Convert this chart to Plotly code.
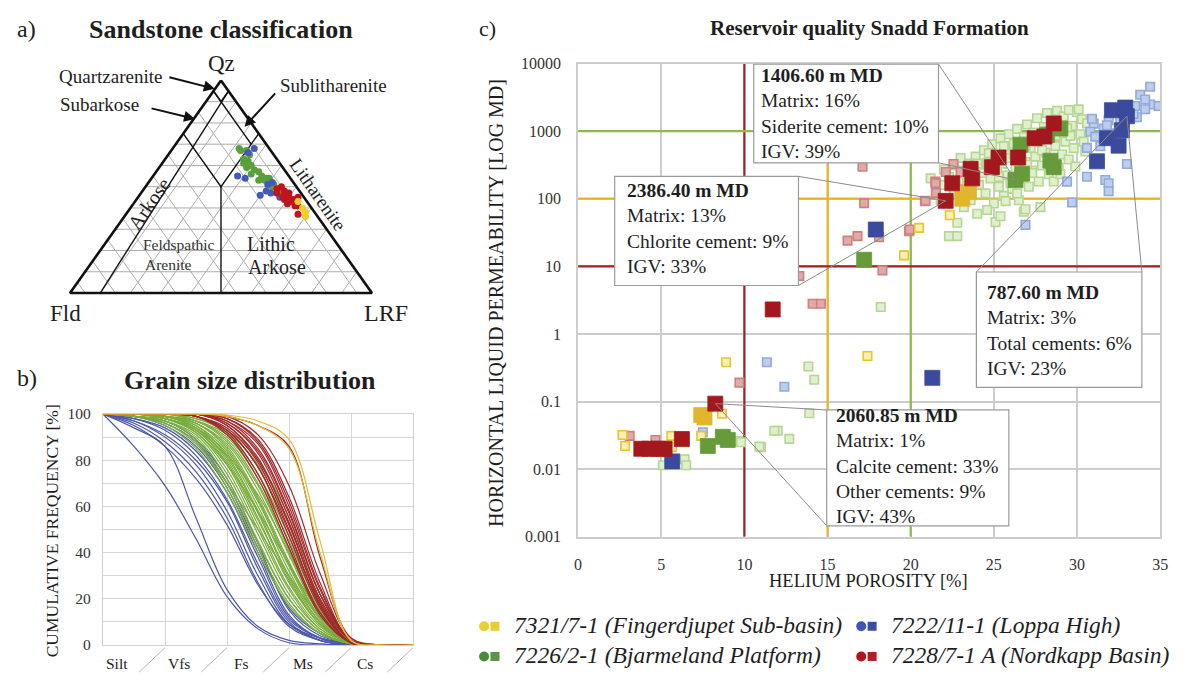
import plotly.graph_objects as go

W, H = 1184, 682
SERIF = "Liberation Serif"
INK = "#1e1e1e"

# ---------------------------------------------------------------------------
# a) Framework composition (%): quartz (Qz) and feldspar (Fld); LRF = rest
# ---------------------------------------------------------------------------
qfr_7321_qz = [43, 40, 38, 36]
qfr_7321_fld = [3, 3, 3, 4]
qfr_7222_qz = [68, 66, 55, 54, 51, 48, 47, 46, 45, 52]
qfr_7222_fld = [5, 8, 17, 15, 9, 11, 10, 14, 8, 7]
qfr_7226_qz = [68, 67, 67, 65, 63, 62, 61, 60, 59, 58, 57, 56, 55, 54, 54, 53, 53, 51, 50, 48, 47]
qfr_7226_fld = [10, 10, 8, 8, 11, 10, 12, 10, 12, 10, 9, 12, 9, 8, 7, 11, 9, 7, 8, 7, 6]
qfr_7228_qz = [49, 50, 48, 47, 46, 45, 44, 45, 43, 42, 41, 41, 37, 45, 47, 44]
qfr_7228_fld = [7, 5, 5, 8, 6, 5, 4, 2, 5, 7, 5, 4, 6, 7, 4, 7]

# classification boundaries as (Qz, Fld, LRF) vertices
class_lines = [
    [(100, 0, 0), (95, 5, 0), (90, 5, 5), (95, 0, 5), (100, 0, 0)],
    [(95, 0, 5), (0, 90, 10)],
    [(95, 5, 0), (70, 5, 25)],
    [(75, 25, 0), (50, 25, 25), (75, 0, 25)],
    [(50, 25, 25), (0, 50, 50)],
]

# ---------------------------------------------------------------------------
# b) Cumulative grain-size curves (%), sampled at half-class steps
# ---------------------------------------------------------------------------
grain_pos = [0, 0.5, 1, 1.5, 2, 2.5, 3, 3.5, 4, 4.5, 5]
grain_classes = ["Silt", "Vfs", "Fs", "Ms", "Cs"]

curves_7222 = [
    [100, 86, 69, 46, 21, 7, 1, 0, 0, 0, 0],
    [100, 94, 86, 55, 24, 8, 2, 0.5, 0, 0, 0],
    [100, 97, 90, 78, 58, 30, 9, 2, 0, 0, 0],
    [100, 98, 93, 82, 63, 35, 11, 3, 0.5, 0, 0],
    [100, 99, 95, 86, 68, 40, 13, 3, 0.5, 0, 0],
    [100, 96, 88, 75, 55, 27, 8, 2, 0, 0, 0],
    [100, 99, 97, 89, 72, 44, 15, 4, 1, 0, 0],
    [100, 98, 94, 84, 66, 38, 12, 3, 0.5, 0, 0],
    [100, 95, 86, 72, 52, 26, 9, 3, 1, 0, 0],
    [100, 99, 96, 88, 70, 42, 16, 5, 1, 0, 0],
    [100, 97, 91, 80, 62, 33, 10, 2, 0, 0, 0],
]
curves_7226 = [
    [100, 100, 99, 95, 82, 58, 30, 10, 1, 0, 0],
    [100, 100, 98, 93, 78, 52, 25, 8, 1, 0, 0],
    [100, 100, 99, 96, 86, 64, 36, 12, 1, 0, 0],
    [100, 99, 97, 90, 72, 45, 20, 6, 0.5, 0, 0],
    [100, 100, 100, 97, 89, 70, 42, 15, 1, 0, 0],
    [100, 100, 99, 94, 80, 55, 27, 9, 1, 0, 0],
    [100, 99, 96, 88, 68, 42, 18, 5, 0.5, 0, 0],
    [100, 100, 99, 97, 91, 74, 47, 18, 2, 0, 0],
    [100, 100, 98, 92, 76, 50, 24, 7, 1, 0, 0],
    [100, 100, 99, 95, 84, 62, 34, 11, 1, 0, 0],
    [100, 99, 97, 89, 70, 44, 20, 6, 0.5, 0, 0],
    [100, 100, 100, 98, 92, 78, 52, 20, 2, 0, 0],
    [100, 100, 99, 96, 87, 67, 39, 13, 1, 0, 0],
    [100, 99, 95, 85, 66, 40, 17, 5, 0.5, 0, 0],
    [100, 100, 99, 94, 81, 57, 29, 9, 1, 0, 0],
    [100, 100, 98, 93, 79, 54, 28, 9, 1, 0, 0],
    [100, 100, 100, 97, 90, 72, 45, 16, 1, 0, 0],
    [100, 99, 97, 91, 74, 48, 22, 7, 1, 0, 0],
    [100, 100, 99, 96, 85, 63, 35, 12, 1, 0, 0],
    [100, 100, 98, 94, 83, 60, 32, 10, 1, 0, 0],
    [100, 99, 98, 93, 82, 65, 40, 14, 1, 0, 0],
    [100, 100, 99, 97, 88, 69, 41, 14, 1, 0, 0],
    [100, 99, 96, 87, 70, 50, 30, 12, 2, 0, 0],
    [100, 100, 98, 92, 78, 58, 35, 14, 2, 0, 0],
    [100, 100, 100, 98, 93, 80, 55, 22, 3, 0, 0],
]
curves_7228 = [
    [100, 100, 100, 100, 97, 85, 58, 22, 2, 0, 0],
    [100, 100, 100, 100, 95, 81, 52, 19, 1, 0, 0],
    [100, 100, 100, 99, 93, 77, 47, 16, 1, 0, 0],
    [100, 100, 100, 100, 98, 89, 64, 27, 2, 0, 0],
    [100, 100, 100, 100, 96, 83, 55, 20, 2, 0, 0],
    [100, 100, 100, 99, 94, 79, 50, 17, 1, 0, 0],
    [100, 100, 100, 100, 97, 87, 60, 24, 2, 0, 0],
    [100, 100, 100, 99, 92, 74, 44, 14, 1, 0, 0],
    [100, 100, 100, 100, 99, 91, 69, 31, 3, 0, 0],
    [100, 100, 100, 100, 95, 80, 53, 18, 1, 0, 0],
    [100, 100, 100, 99, 93, 77, 49, 17, 1, 0, 0],
    [100, 100, 100, 100, 98, 88, 62, 25, 2, 0, 0],
    [100, 100, 100, 100, 96, 84, 57, 22, 2, 0, 0],
    [100, 100, 100, 100, 99, 95, 86, 38, 3, 0, 0],
    [100, 100, 100, 99, 91, 72, 42, 13, 1, 0, 0],
]
curves_7321 = [
    [100, 100, 100, 100, 99.5, 97, 89, 45, 2, 0, 0],
    [100, 100, 100, 100, 99, 95, 85, 40, 2, 0, 0],
]

# ---------------------------------------------------------------------------
# c) Helium porosity (%) vs horizontal liquid permeability (mD)
#    small = routine core plugs, big = thin-section samples
# ---------------------------------------------------------------------------
por_7321_small = [8.9, 8.65, 7.4, 2.67, 2.83, 5.6, 5.65, 17.4, 22.35, 20.5, 19.6]
perm_7321_small = [0.38, 0.066, 0.031, 0.032, 0.022, 0.031, 0.021, 0.47, 57, 37, 14.5]
por_7321_big = [7.4, 7.6, 23.1, 23.5]
perm_7321_big = [0.063, 0.058, 100, 125]

por_7222_small = [34.4, 33.8, 34.9, 34.4, 34.1, 33.6, 33.2, 33.4, 32.6, 31.9, 31.6, 31.0,
                  30.8, 30.6, 31.4, 32.2, 31.1, 31.8, 33.0, 31.7, 31.9, 31.9, 30.6, 29.4,
                  29.7, 26.9, 34.1, 33.5, 30.9, 11.35, 12.4, 7.5]
perm_7222_small = [4540, 3450, 2350, 2480, 2110, 1600, 1600, 1790, 1520, 1440, 1090, 1290,
                   980, 565, 597, 926, 830, 1220, 327, 189, 169, 129, 211, 179,
                   88, 41, 2930, 2350, 1520, 0.38, 0.165, 0.035]
por_7222_big = [32.1, 32.9, 32.7, 31.8, 32.5, 31.2, 33.0, 17.9, 21.3, 5.66]
perm_7222_big = [2040, 2230, 1030, 785, 610, 357, 1660, 35, 0.224, 0.013]

por_7226_small = [
    21.5, 21.8, 21.9, 22.3, 22.6, 22.9, 23.1, 23.0, 23.3, 23.5, 23.6, 23.8, 23.9, 24.0, 24.1,
    24.2, 24.4, 24.5, 24.6, 24.8, 24.9, 25.0, 25.1, 25.2, 25.3, 25.4, 25.5, 25.6, 25.7, 25.8,
    25.9, 26.0, 26.1, 26.2, 26.3, 26.4, 26.5, 26.6, 26.7, 26.8, 26.9, 27.0, 27.1, 27.2, 27.3,
    27.4, 27.5, 27.6, 27.7, 27.8, 27.9, 28.0, 28.1, 28.2, 28.3, 28.4, 28.5, 28.6, 28.7, 28.8,
    28.9, 29.0, 29.1, 29.2, 29.3, 29.5, 29.5, 29.7, 29.8, 30.0, 30.2, 30.3, 30.6, 30.1,
    22.3, 22.8, 22.8, 25.1, 26.8, 27.8, 23.2, 25.4, 26.9, 24.6, 25.7,
    23.4, 24.3, 25.0, 25.6, 26.2, 26.9, 27.5, 28.1, 28.8, 29.4, 27.0, 27.9, 28.7, 29.6, 30.4,
    24.0, 24.7, 25.3, 26.0, 27.3, 28.6, 29.9, 30.5, 29.0, 26.4, 22.0, 21.2, 22.6,
    18.2, 13.85, 14.2, 13.9, 12.0, 12.7, 11.0, 9.6, 9.8, 11.8, 10.9, 6.4, 6.5, 5.1,
]
perm_7226_small = [
    130, 95, 160, 210, 120, 180, 260, 400, 140, 330, 95, 210, 420, 60, 160,
    280, 520, 120, 340, 200, 640, 85, 430, 260, 150, 780, 330, 110, 520, 220,
    900, 400, 140, 650, 290, 1080, 95, 480, 200, 820, 350, 1250, 150, 560, 260,
    950, 420, 1550, 180, 700, 310, 1150, 480, 1850, 230, 850, 380, 1400, 600, 2000,
    290, 1000, 450, 1650, 700, 2050, 380, 1200, 560, 1900, 900, 1500, 1300, 2100,
    28, 28, 44, 45, 64, 75, 75, 55, 70, 68, 92,
    185, 240, 370, 600, 450, 600, 800, 1000, 1300, 1100, 320, 520, 850, 850, 700,
    330, 470, 210, 170, 240, 180, 300, 500, 230, 120, 270, 200, 310,
    2.5, 0.33, 0.21, 0.067, 0.037, 0.028, 0.021, 0.026, 0.025, 0.037, 0.0215, 0.014, 0.0114, 0.0114,
]
por_7226_big = [29.0, 28.2, 26.6, 28.4, 28.6, 26.3, 26.7, 17.2, 8.7, 9.0, 7.8]
perm_7226_big = [1090, 877, 631, 365, 293, 189, 235, 12.5, 0.030, 0.027, 0.022]

por_7228_small = [17.1, 17.2, 20.85, 16.2, 16.8, 18.1, 19.9, 18.3, 13.3, 14.1, 14.6, 22.57,
                  22.11, 21.48, 21.52, 20.89, 19.94, 23.0, 21.5, 9.7, 7.7, 3.1, 4.65]
perm_7228_small = [297, 86, 92, 24, 28, 27, 33, 8.7, 7.2, 2.8, 2.8, 327,
                   248, 179, 122, 93, 35, 248, 170, 0.19, 0.054, 0.031, 0.027]
por_7228_big = [28.6, 27.45, 28.04, 26.46, 25.28, 24.88, 23.6, 23.7, 22.5, 22.1, 11.7,
                8.25, 3.8, 4.3, 4.8, 5.2, 6.24]
perm_7228_big = [1300, 785, 830, 407, 407, 293, 277, 200, 169, 93, 2.3,
                 0.093, 0.02, 0.02, 0.02, 0.02, 0.0278]

# reservoir-quality cut-offs
por_cutoffs = [10, 15, 20]
perm_cutoffs = [10, 100, 1000]
cutoff_colors = ["#A8201F", "#E8B52A", "#8DBB47"]

perm_ticks = [0.001, 0.01, 0.1, 1, 10, 100, 1000, 10000]
perm_ticktext = ["0.001", "0.01", "0.1", "1", "10", "100", "1000", "10000"]

wells = [
    dict(name="7321/7-1 (Fingerdjupet Sub-basin)", dot="#F0CF2A", dark="#E2B62C",
         sym_dot="#E9D230", sym_sq="#E8CC33",
         light_fill="#FBF0B4", light_line="#E6C52E", curves=curves_7321,
         qz=qfr_7321_qz, fld=qfr_7321_fld, line="#E3B935",
         ps=por_7321_small, ks=perm_7321_small, pb=por_7321_big, kb=perm_7321_big),
    dict(name="7222/11-1 (Loppa High)", dot="#4459BC", dark="#3B4A9C",
         sym_dot="#3F55B5", sym_sq="#3A4CA8",
         light_fill="#BCCDEE", light_line="#91AADB", curves=curves_7222,
         qz=qfr_7222_qz, fld=qfr_7222_fld, line="#4C57A8",
         ps=por_7222_small, ks=perm_7222_small, pb=por_7222_big, kb=perm_7222_big),
    dict(name="7226/2-1 (Bjarmeland Platform)", dot="#58A03C", dark="#679B3A",
         sym_dot="#4A8A3C", sym_sq="#5A9444",
         light_fill="#E0F0CC", light_line="#B5D695", curves=curves_7226,
         qz=qfr_7226_qz, fld=qfr_7226_fld, line="#79AC3C",
         ps=por_7226_small, ks=perm_7226_small, pb=por_7226_big, kb=perm_7226_big),
    dict(name="7228/7-1 A (Nordkapp Basin)", dot="#C0141C", dark="#A3181F",
         sym_dot="#B0141E", sym_sq="#B01E28",
         light_fill="#E2A9A7", light_line="#C98381", curves=curves_7228,
         qz=qfr_7228_qz, fld=qfr_7228_fld, line="#A3262A",
         ps=por_7228_small, ks=perm_7228_small, pb=por_7228_big, kb=perm_7228_big),
]


def px(x):
    return x / W


def py(y):
    return 1 - y / H


def tern(q, f, r):
    s = q + f + r
    return (r + q / 2) / s, q / s


fig = go.Figure()

# ---------------- a) ternary diagram on a plain cartesian frame -------------
gx, gy = [], []


def add_seg(p0, p1):
    a = tern(*p0)
    b = tern(*p1)
    gx.extend([a[0], b[0], None])
    gy.extend([a[1], b[1], None])


for q in range(10, 100, 10):
    add_seg((q, 100 - q, 0), (q, 0, 100 - q))
for r in range(10, 100, 10):
    add_seg((0, 100 - r, r), (100 - r, 0, r))
for f in range(5, 100, 10):
    add_seg((0, f, 100 - f), (100 - f, f, 0))
fig.add_trace(go.Scatter(x=gx, y=gy, mode="lines", line=dict(color="#ADADAD", width=1),
                         xaxis="x", yaxis="y", hoverinfo="skip", showlegend=False))

cx, cy = [], []
for poly in class_lines:
    for v in poly:
        p = tern(*v)
        cx.append(p[0])
        cy.append(p[1])
    cx.append(None)
    cy.append(None)
fig.add_trace(go.Scatter(x=cx, y=cy, mode="lines", line=dict(color="#111", width=1.4),
                         xaxis="x", yaxis="y", hoverinfo="skip", showlegend=False))

tri = [tern(100, 0, 0), tern(0, 100, 0), tern(0, 0, 100), tern(100, 0, 0)]
fig.add_trace(go.Scatter(x=[p[0] for p in tri], y=[p[1] for p in tri], mode="lines",
                         line=dict(color="#111", width=2.6), xaxis="x", yaxis="y",
                         hoverinfo="skip", showlegend=False))

for wdef in [wells[2], wells[1], wells[3], wells[0]]:
    pts = [tern(q, f, 100 - q - f) for q, f in zip(wdef["qz"], wdef["fld"])]
    fig.add_trace(go.Scatter(x=[p[0] for p in pts], y=[p[1] for p in pts], mode="markers",
                             marker=dict(symbol="circle", size=7, color=wdef["dot"]),
                             xaxis="x", yaxis="y", hoverinfo="skip", showlegend=False))

# ---------------- b) grain size curves ---------------------------------------
for wdef in [wells[1], wells[2], wells[3], wells[0]]:
    for c in wdef["curves"]:
        fig.add_trace(go.Scatter(x=grain_pos, y=c, mode="lines",
                                 line=dict(color=wdef["line"], width=1.2, shape="spline", smoothing=1.0),
                                 xaxis="x2", yaxis="y2", hoverinfo="skip", showlegend=False))

# ---------------- c) porosity / permeability cross-plot ----------------------
for val, col in zip(por_cutoffs, cutoff_colors):
    fig.add_trace(go.Scatter(x=[val, val], y=[perm_ticks[0], perm_ticks[-1]], mode="lines",
                             line=dict(color=col, width=2.2), xaxis="x3", yaxis="y3",
                             hoverinfo="skip", showlegend=False))
for val, col in zip(perm_cutoffs, cutoff_colors):
    fig.add_trace(go.Scatter(x=[0, 35], y=[val, val], mode="lines",
                             line=dict(color=col, width=2.2), xaxis="x3", yaxis="y3",
                             hoverinfo="skip", showlegend=False))

for wdef in [wells[2], wells[1], wells[3], wells[0]]:
    fig.add_trace(go.Scatter(x=wdef["ps"], y=wdef["ks"], mode="markers",
                             marker=dict(symbol="square", size=8.5, color=wdef["light_fill"],
                                         line=dict(color=wdef["light_line"], width=1.6)),
                             xaxis="x3", yaxis="y3", hoverinfo="skip", showlegend=False))
for wdef in [wells[2], wells[1], wells[0], wells[3]]:
    fig.add_trace(go.Scatter(x=wdef["pb"], y=wdef["kb"], mode="markers",
                             marker=dict(symbol="square", size=15, color=wdef["dark"],
                                         line=dict(color=wdef["dark"], width=0.8)),
                             xaxis="x3", yaxis="y3", hoverinfo="skip", showlegend=False))

# legend symbols on a full-page overlay frame (pixel units)
leg_rows = [(633, 0, 485), (633, 1, 866), (664, 2, 485), (664, 3, 866)]
for yrow, wi, xstart in leg_rows:
    wdef = wells[wi]
    fig.add_trace(go.Scatter(x=[xstart], y=[yrow + 1], mode="markers",
                             marker=dict(symbol="circle", size=10, color=wdef["sym_dot"]),
                             xaxis="x4", yaxis="y4", hoverinfo="skip", showlegend=False))
    fig.add_trace(go.Scatter(x=[xstart + 11], y=[yrow + 1], mode="markers",
                             marker=dict(symbol="square", size=9, color=wdef["sym_sq"]),
                             xaxis="x4", yaxis="y4", hoverinfo="skip", showlegend=False))

shapes = []
annotations = []

# callout boxes (x in %, y in mD); text placed by first-line position on the page
callouts = [
    dict(lines=["1406.60 m MD", "Matrix: 16%", "Siderite cement: 10%", "IGV: 39%"],
         box=(10.56, 21.67, 340, 9800), text_at=(763, 73),
         corners=[(21.67, 9800), (21.67, 340)], target=(por_7226_big[5], perm_7226_big[5])),
    dict(lines=["2386.40 m MD", "Matrix: 13%", "Chlorite cement: 9%", "IGV: 33%"],
         box=(2.2, 13.25, 5.2, 214), text_at=(627, 192),
         corners=[(13.25, 214), (13.25, 5.2)], target=(por_7228_big[9], perm_7228_big[9])),
    dict(lines=["787.60 m MD", "Matrix: 3%", "Total cements: 6%", "IGV: 23%"],
         box=(23.95, 33.9, 0.162, 8.24), text_at=(991, 296),
         corners=[(23.95, 8.24), (33.9, 8.24)], target=(por_7222_big[6], perm_7222_big[6])),
    dict(lines=["2060.85 m MD", "Matrix: 1%", "Calcite cement: 33%", "Other cements: 9%", "IGV: 43%"],
         box=(14.95, 25.9, 0.00145, 0.075), text_at=(838, 423),
         corners=[(14.95, 0.075), (14.95, 0.00145)], target=(por_7228_big[11], perm_7228_big[11])),
]
BOX_FONT = 19.5
for co in callouts:
    tx, ty = co["target"]
    for (cxp, cyp) in co["corners"]:
        shapes.append(dict(type="line", xref="x3", yref="y3", x0=cxp, y0=cyp, x1=tx, y1=ty,
                           line=dict(color="#8a8a8a", width=1), layer="above"))
    x0, x1, y0, y1 = co["box"]
    shapes.append(dict(type="rect", xref="x3", yref="y3", x0=x0, x1=x1, y0=y0, y1=y1,
                       fillcolor="white", line=dict(color="#9a9a9a", width=1.2), layer="above"))
    text = "<b>" + co["lines"][0] + "</b><br>" + "<br>".join(co["lines"][1:])
    tx_px, ty_px = co["text_at"]
    annotations.append(dict(xref="paper", yref="paper", x=px(tx_px), y=py(ty_px - 0.92 * BOX_FONT),
                            xanchor="left", yanchor="top", align="left", showarrow=False,
                            text=text, font=dict(family=SERIF, size=BOX_FONT, color=INK)))

# slanted depth ticks under the grain-size axis
for k in range(1, 6):
    gxp = 100 + k * 62.65
    shapes.append(dict(type="line", xref="paper", yref="paper",
                       x0=px(gxp - 26), y0=py(681), x1=px(gxp), y1=py(656),
                       line=dict(color="#B5B5B5", width=1)))


def txt(x, y, s, size, bold=False, italic=False, anchor="center", angle=0, color=INK):
    if bold:
        s = "<b>" + s + "</b>"
    if italic:
        s = "<i>" + s + "</i>"
    annotations.append(dict(xref="paper", yref="paper", x=px(x), y=py(y), text=s,
                            showarrow=False, xanchor=anchor, yanchor="middle", textangle=angle,
                            font=dict(family=SERIF, size=size, color=color)))


# panel headings
txt(11, 21, "a)", 24, anchor="left")
txt(219, 21, "Sandstone classification", 26, bold=True)
txt(11, 379, "b)", 24, anchor="left")
txt(249, 382, "Grain size distribution", 26, bold=True)
txt(478, 20, "c)", 22, anchor="left")
txt(874, 20, "Reservoir quality Snadd Formation", 21, bold=True)

# ternary labels
txt(220, 56, "Qz", 23)
txt(62, 313, "Fld", 23)
txt(386, 312, "LRF", 24)
txt(162, 69, "Quartzarenite", 19, anchor="right")
txt(138, 98, "Subarkose", 19, anchor="right")
txt(277, 79, "Sublitharenite", 19, anchor="left")
txt(317, 191, "Litharenite", 19, angle=55)
txt(146, 200, "Arkose", 20, angle=-55)
txt(177, 242, "Feldspathic", 15.5, color="#333")
txt(166, 262, "Arenite", 15.5, color="#333")
txt(270, 241, "Lithic", 20)
txt(276, 265, "Arkose", 20)

for head, tail in [((213, 82), (166, 70)), ((193, 113), (148, 102)), ((243, 121), (275, 86))]:
    annotations.append(dict(xref="paper", yref="paper", x=px(head[0]), y=py(head[1]),
                            ax=tail[0] - head[0], ay=tail[1] - head[1], text="",
                            showarrow=True, arrowhead=2, arrowsize=1.1, arrowwidth=2,
                            arrowcolor="#111"))

# grain-size axis labels
for k, lab in enumerate(grain_classes):
    txt(100 + 62.65 * (k + 0.23), 672, lab, 15.5)
txt(48, 536, "CUMULATIVE FREQUENCY [%]", 17.5, angle=-90)

# cross-plot axis titles
txt(873, 588, "HELIUM POROSITY [%]", 18.5)
txt(497, 302, "HORIZONTAL LIQUID PERMEABILITY [LOG MD]", 20, angle=-90)

# legend texts
for yrow, wi, xstart in leg_rows:
    txt(xstart + 28, yrow, wells[wi]["name"], 23.5, italic=True, anchor="left")

grid_c = "#CDCDCD"
fig.update_layout(
    width=W, height=H, margin=dict(l=0, r=0, t=0, b=0),
    paper_bgcolor="white", plot_bgcolor="rgba(0,0,0,0)",
    showlegend=False,
    xaxis=dict(domain=[px(5.7), px(432.7)], range=[-0.2, 1.2], visible=False, anchor="y"),
    yaxis=dict(domain=[py(335.4), py(7.8)], range=[-0.2, 1.3], visible=False, anchor="x"),
    xaxis2=dict(domain=[px(100), px(413.3)], range=[0, 5], tickmode="array", anchor="y2",
                tickvals=[0, 1, 2, 3, 4, 5], showticklabels=False, ticks="",
                showgrid=True, gridcolor="#D6D6D6", gridwidth=1.2, zeroline=False,
                showline=True, linecolor="#D0D0D0", linewidth=1.2, mirror=True),
    yaxis2=dict(domain=[py(653.3), py(416)], range=[0, 100], tickmode="array", anchor="x2",
                tickvals=[0, 20, 40, 60, 80, 100], showgrid=True, gridcolor="#D6D6D6",
                gridwidth=1.2, zeroline=False, ticks="outside", ticklen=8,
                tickcolor="rgba(0,0,0,0)", showline=True, linecolor="#D0D0D0",
                linewidth=1.2, mirror=True,
                minor=dict(tick0=0, dtick=10, showgrid=True, gridcolor="#D6D6D6", ticks=""),
                tickfont=dict(family=SERIF, size=15.5, color="#333")),
    xaxis3=dict(domain=[px(580), px(1168)], range=[0, 35], tickmode="linear", tick0=0, dtick=5,
                anchor="y3",
                showgrid=True, gridcolor=grid_c, gridwidth=1.6, zeroline=False,
                ticks="outside", ticklen=12, tickcolor="rgba(0,0,0,0)",
                showline=True, linecolor=grid_c, linewidth=1.6, mirror=True,
                tickfont=dict(family=SERIF, size=16, color="#333")),
    yaxis3=dict(domain=[py(542), py(56)], type="log", range=[-3, 4], tickmode="array",
                anchor="x3",
                tickvals=perm_ticks, ticktext=perm_ticktext,
                showgrid=True, gridcolor=grid_c, gridwidth=1.6, zeroline=False,
                ticks="outside", ticklen=12, tickcolor="rgba(0,0,0,0)",
                showline=True, linecolor=grid_c, linewidth=1.6, mirror=True,
                tickfont=dict(family=SERIF, size=16, color="#333")),
    xaxis4=dict(domain=[0, 1], range=[0, W], visible=False, anchor="y4"),
    yaxis4=dict(domain=[0, 1], range=[H, 0], visible=False, anchor="x4"),
    shapes=shapes,
    annotations=annotations,
)

fig.write_html("out.html")
